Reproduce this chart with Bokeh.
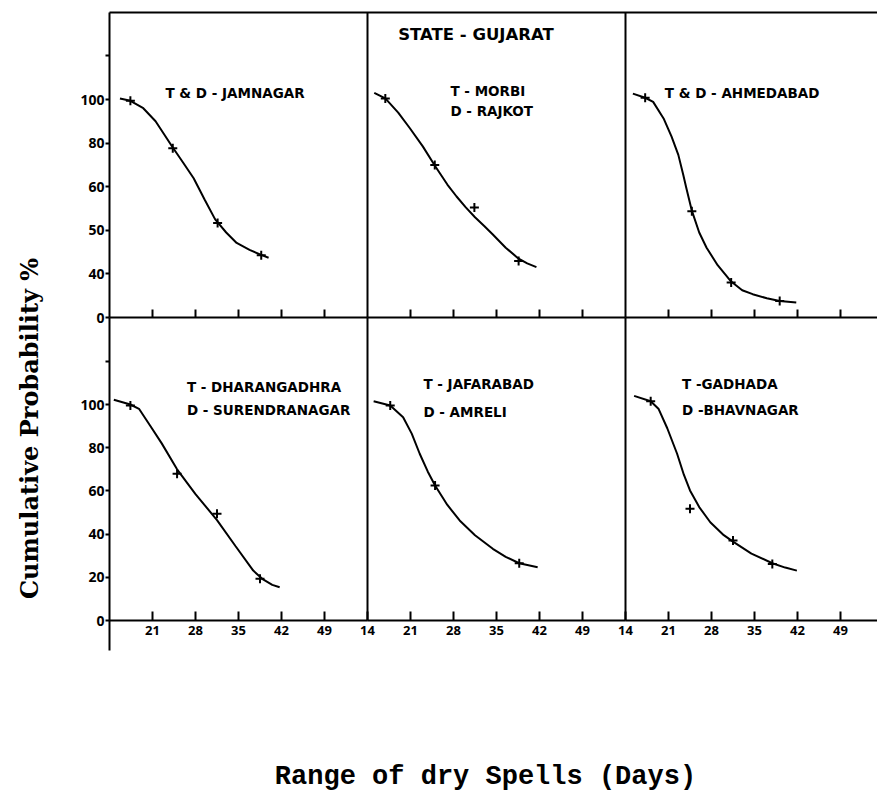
import math
from bokeh.plotting import figure
from bokeh.models import Range1d, LinearAxis, FixedTicker, Label
from bokeh.embed import file_html
from bokeh.resources import INLINE

# ---------------- data ----------------
day_ticks = [21, 28, 35, 42, 49]
day_ticks_with_start = [14, 21, 28, 35, 42, 49]
y_ticks = [0, 20, 40, 60, 80, 100, 120]
top_y_labels = ["0", "40", "50", "60", "80", "100", ""]
bottom_y_labels = ["0", "20", "40", "60", "80", "100", ""]

state_title = "STATE - GUJARAT"
y_title = "Cumulative Probability %"
x_title = "Range of dry Spells (Days)"

# Panel 1: T & D - Jamnagar
jam_label = ["T & D - JAMNAGAR"]
jam_days = [17.4, 24.3, 31.6, 38.7]
jam_prob = [99.4, 77.6, 43.4, 28.5]
jam_curve_days = [15.7, 17.4, 19.5, 21.5, 24.3, 26.0, 27.7, 29.5, 31.2, 33.0, 34.7, 36.8, 38.7, 39.9]
jam_curve_prob = [100.5, 99.4, 96.0, 90.0, 78.0, 71.0, 63.9, 54.0, 45.0, 39.0, 34.2, 31.0, 28.7, 27.4]

# Panel 2: T - Morbi, D - Rajkot
mor_label = ["T - MORBI", "D - RAJKOT"]
mor_days = [16.9, 24.95, 31.4, 38.6]
mor_prob = [100.5, 70.0, 50.5, 25.9]
mor_curve_days = [15.1, 16.9, 19.0, 20.9, 23.0, 25.0, 27.0, 28.5, 30.0, 31.5, 33.0, 34.4, 36.5, 38.6, 40.0, 41.5]
mor_curve_prob = [103.0, 100.5, 94.0, 86.8, 78.5, 69.5, 61.0, 55.5, 50.5, 46.0, 42.0, 38.1, 32.0, 27.0, 24.8, 23.1]

# Panel 3: T & D - Ahmedabad
ahm_label = ["T & D - AHMEDABAD"]
ahm_days = [17.2, 24.8, 31.2, 39.1]
ahm_prob = [100.8, 48.7, 16.0, 7.6]
ahm_curve_days = [15.2, 17.2, 18.5, 20.2, 21.5, 22.6, 23.4, 23.9, 24.8, 26.0, 27.2, 29.0, 31.2, 33.0, 34.7, 37.0, 39.1, 41.8]
ahm_curve_prob = [102.7, 100.8, 98.9, 91.3, 83.0, 74.6, 65.5, 59.4, 49.0, 39.0, 32.0, 24.0, 16.5, 12.5, 10.7, 8.8, 7.6, 6.9]

# Panel 4: T - Dharangadhra, D - Surendranagar
dha_label = ["T -    DHARANGADHRA", "D - SURENDRANAGAR"]
dha_days = [17.4, 25.0, 31.5, 38.5]
dha_prob = [99.5, 67.9, 49.4, 19.3]
dha_curve_days = [14.7, 17.4, 18.8, 20.6, 22.5, 25.0, 28.0, 31.5, 34.5, 37.4, 39.0, 40.5, 41.7]
dha_curve_prob = [102.2, 100.0, 98.0, 90.3, 82.0, 70.0, 58.5, 46.5, 34.5, 23.1, 19.0, 16.5, 15.4]

# Panel 5: T - Jafarabad, D - Amreli
jaf_label = ["T  -  JAFARABAD", "D  -  AMRELI"]
jaf_days = [17.7, 25.0, 38.7]
jaf_prob = [99.5, 62.5, 26.5]
jaf_curve_days = [15.0, 17.7, 19.8, 21.2, 22.5, 23.8, 25.0, 27.0, 29.0, 31.5, 34.4, 36.5, 38.7, 41.7]
jaf_curve_prob = [101.5, 99.5, 94.1, 86.5, 77.2, 69.0, 62.5, 53.5, 46.3, 39.5, 33.2, 29.5, 26.5, 24.7]

# Panel 6: T - Gadhada, D - Bhavnagar
gad_label = ["T -GADHADA", "D -BHAVNAGAR"]
gad_days = [18.1, 24.5, 31.5, 37.9]
gad_prob = [101.5, 51.7, 37.0, 26.2]
gad_curve_days = [15.4, 18.1, 19.4, 20.8, 22.4, 23.5, 24.5, 26.0, 27.8, 30.0, 31.5, 34.5, 37.9, 40.0, 41.9]
gad_curve_prob = [104.0, 101.5, 97.9, 89.0, 77.2, 67.5, 60.2, 52.5, 45.5, 39.5, 36.5, 31.0, 26.5, 24.5, 23.1]

# ---------------- layout / styling ----------------
W, H = 877, 799
LEFT, TOP, FRAME_BOTTOM = 109, 12, 650       # pixel positions of the drawn panel block
PANEL_W = 258
DAY_START, DAY_SPAN = 14, 42
ppd = PANEL_W / DAY_SPAN

TOP_ZERO_PX, TOP_SCALE = 317, 2.18
BOT_ZERO_PX, BOT_SCALE = 620, 2.16

TICK_FONT = "Noto Sans"
ANNOT_FONT = "DejaVu Sans"
YTITLE_FONT = "DejaVu Serif"
XTITLE_FONT = "Liberation Mono"


def x_range_for(col):
    start = DAY_START - col * DAY_SPAN - LEFT / ppd
    return Range1d(start, start + W / ppd)


p = figure(width=W, height=H, output_backend="svg", toolbar_location=None,
           x_axis_type=None, y_axis_type=None, title=None,
           min_border_left=0, min_border_right=0, min_border_top=0, min_border_bottom=0,
           x_range=x_range_for(0),
           y_range=Range1d(-(H - TOP_ZERO_PX) / TOP_SCALE, TOP_ZERO_PX / TOP_SCALE))
p.extra_x_ranges = {"c2": x_range_for(1), "c3": x_range_for(2)}
p.extra_y_ranges = {"bot": Range1d(-(H - BOT_ZERO_PX) / BOT_SCALE, BOT_ZERO_PX / BOT_SCALE)}
p.outline_line_color = None
p.background_fill_color = "white"
p.border_fill_color = "white"

Y_TOP_TOP = (TOP_ZERO_PX - TOP) / TOP_SCALE
Y_TOP_BOT = (BOT_ZERO_PX - TOP_ZERO_PX) / BOT_SCALE
Y_BOTTOM_EXT = -(FRAME_BOTTOM - BOT_ZERO_PX) / BOT_SCALE
X_RIGHT = DAY_START + (W - LEFT) / ppd


def base_axis(ax):
    ax.axis_line_color = "black"
    ax.axis_line_width = 2
    ax.major_tick_line_color = "black"
    ax.major_tick_line_width = 2
    ax.minor_tick_line_color = None
    ax.major_label_text_color = "black"
    ax.major_label_text_font = TICK_FONT
    ax.major_label_text_font_style = "bold"
    return ax


# top border line
top_line = base_axis(LinearAxis(fixed_location=Y_TOP_TOP, bounds=(DAY_START, X_RIGHT),
                                ticker=FixedTicker(ticks=[], minor_ticks=[])))
p.add_layout(top_line, "above")

# left probability axes (column 1)
for yr, labels, bnds in [("default", top_y_labels, (0, Y_TOP_TOP)),
                         ("bot", bottom_y_labels, (Y_BOTTOM_EXT, Y_TOP_BOT))]:
    ax = base_axis(LinearAxis(y_range_name=yr, x_range_name="default",
                              fixed_location=DAY_START, bounds=bnds,
                              ticker=FixedTicker(ticks=y_ticks, minor_ticks=[]),
                              major_label_overrides={t: l for t, l in zip(y_ticks, labels)}))
    ax.major_tick_in = 0
    ax.major_tick_out = 4
    ax.major_label_standoff = 1
    ax.major_label_text_font_size = "14px"
    p.add_layout(ax, "left")

# column dividers
for xr in ["c2", "c3"]:
    for yr, top in [("default", Y_TOP_TOP), ("bot", Y_TOP_BOT)]:
        ax = base_axis(LinearAxis(x_range_name=xr, y_range_name=yr,
                                  fixed_location=DAY_START, bounds=(0, top),
                                  ticker=FixedTicker(ticks=[], minor_ticks=[])))
        p.add_layout(ax, "left")

# day axes
for xr, ticks_bottom in [("default", day_ticks), ("c2", day_ticks_with_start), ("c3", day_ticks_with_start)]:
    ax = base_axis(LinearAxis(x_range_name=xr, y_range_name="default", fixed_location=0,
                              bounds=(DAY_START, DAY_START + DAY_SPAN),
                              ticker=FixedTicker(ticks=day_ticks, minor_ticks=[]),
                              major_label_overrides={t: "" for t in day_ticks}))
    ax.major_tick_in = 8
    ax.major_tick_out = 0
    p.add_layout(ax, "below")

    ax = base_axis(LinearAxis(x_range_name=xr, y_range_name="bot", fixed_location=0,
                              bounds=(DAY_START, DAY_START + DAY_SPAN),
                              ticker=FixedTicker(ticks=ticks_bottom, minor_ticks=[]),
                              major_label_overrides={t: str(t) for t in ticks_bottom}))
    ax.major_tick_in = 9
    ax.major_tick_out = 0
    ax.major_label_standoff = 5
    ax.major_label_text_font_size = "13px"
    p.add_layout(ax, "below")

# curves and observed points
panels = [
    ("default", "default", jam_days, jam_prob, jam_curve_days, jam_curve_prob, jam_label, (23.1, [103.0])),
    ("c2", "default", mor_days, mor_prob, mor_curve_days, mor_curve_prob, mor_label, (27.5, [104.0, 94.7])),
    ("c3", "default", ahm_days, ahm_prob, ahm_curve_days, ahm_curve_prob, ahm_label, (20.4, [103.0])),
    ("default", "bot", dha_days, dha_prob, dha_curve_days, dha_curve_prob, dha_label, (26.6, [108.0, 97.5])),
    ("c2", "bot", jaf_days, jaf_prob, jaf_curve_days, jaf_curve_prob, jaf_label, (23.1, [109.6, 96.4])),
    ("c3", "bot", gad_days, gad_prob, gad_curve_days, gad_curve_prob, gad_label, (23.2, [109.6, 97.5])),
]

for xr, yr, dx, dy, cx, cy, labels, (lx, lys) in panels:
    p.line(cx, cy, x_range_name=xr, y_range_name=yr, line_color="black", line_width=2)
    p.scatter(dx, dy, x_range_name=xr, y_range_name=yr, marker="cross", size=9,
              line_color="black", line_width=2)
    for text, ly in zip(labels, lys):
        p.add_layout(Label(x=lx, y=ly, x_range_name=xr, y_range_name=yr, text=text,
                           text_font=ANNOT_FONT, text_font_style="bold", text_font_size="13.5px",
                           text_color="black", text_align="left", text_baseline="middle"))

p.add_layout(Label(x=19.0, y=130.0, x_range_name="c2", y_range_name="default", text=state_title,
                   text_font=ANNOT_FONT, text_font_style="bold", text_font_size="16.5px",
                   text_color="black", text_align="left", text_baseline="middle"))

# axis titles
p.add_layout(Label(x=DAY_START + (29 - LEFT) / ppd, y=(BOT_ZERO_PX - 428) / BOT_SCALE,
                   x_range_name="default", y_range_name="bot", text=y_title, angle=math.pi / 2,
                   text_font=YTITLE_FONT, text_font_style="bold", text_font_size="24px",
                   text_color="black", text_align="center", text_baseline="middle"))
p.add_layout(Label(x=DAY_START + (485 - LEFT) / ppd, y=(BOT_ZERO_PX - 776) / BOT_SCALE,
                   x_range_name="default", y_range_name="bot", text=x_title,
                   text_font=XTITLE_FONT, text_font_style="bold", text_font_size="27px",
                   text_color="black", text_align="center", text_baseline="middle"))

open("out.html", "w").write(file_html(p, INLINE))
